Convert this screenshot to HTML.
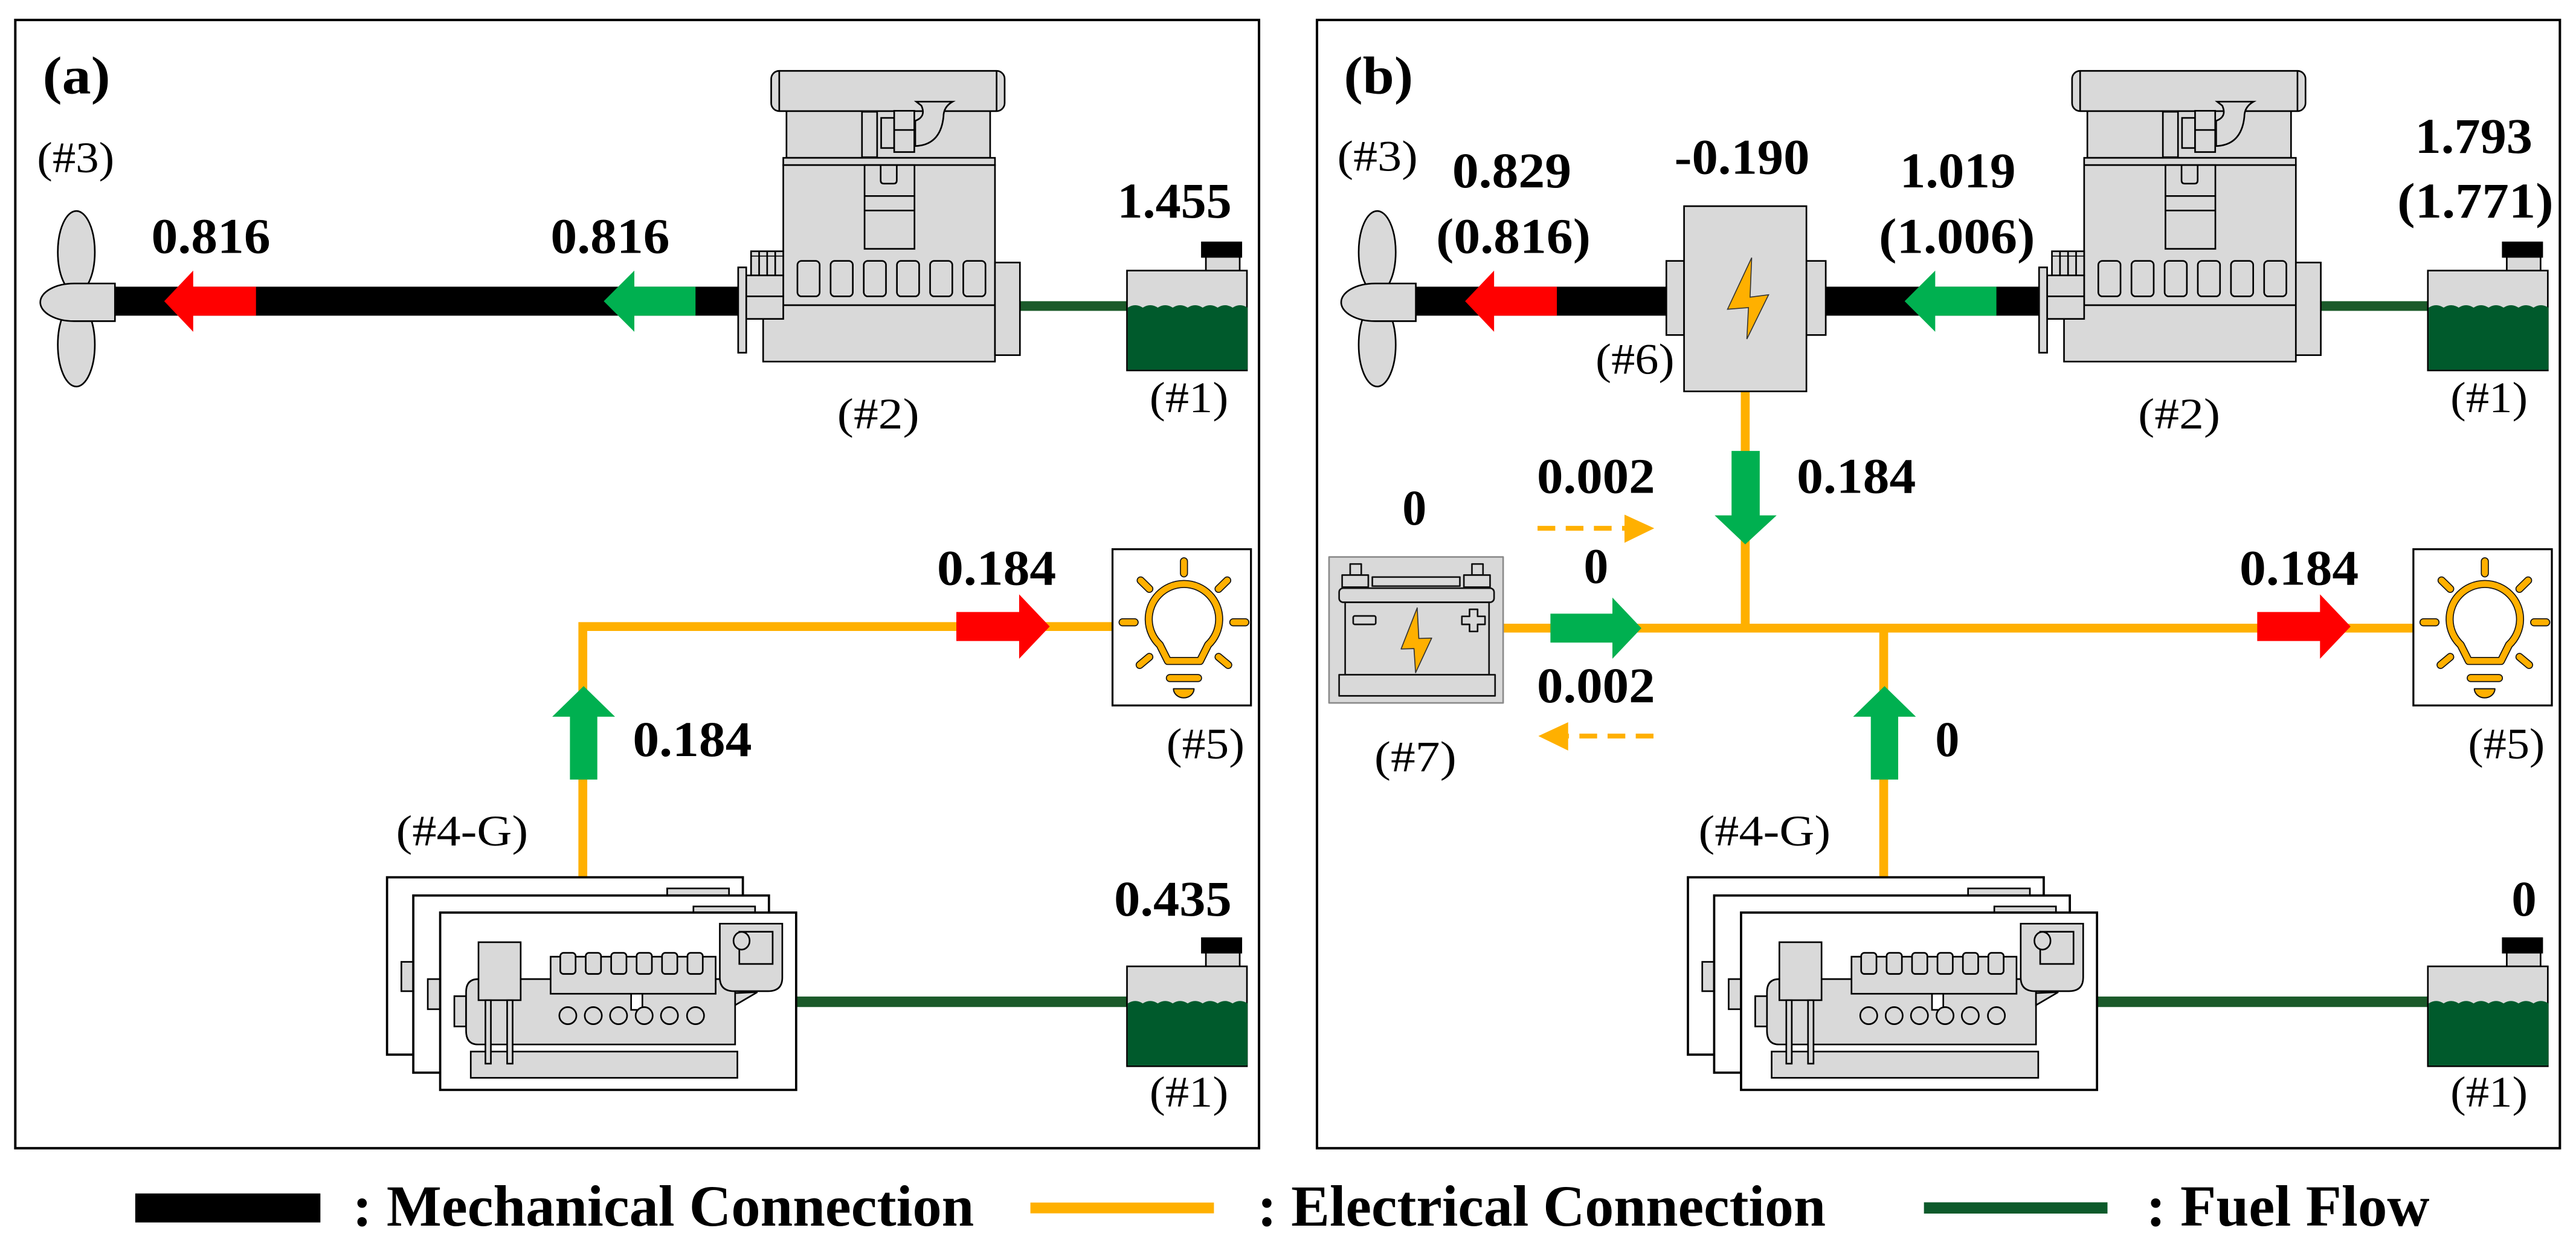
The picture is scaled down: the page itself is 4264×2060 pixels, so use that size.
<!DOCTYPE html>
<html><head><meta charset="utf-8"><style>
html,body{margin:0;padding:0;background:#fff;}
svg{display:block;}
text{font-family:"Liberation Serif",serif;}
.v{font-weight:bold;font-size:31px;}
.l{font-size:27px;}
.g{fill:#d9d9d9;stroke:#000;stroke-width:1;}
</style></head><body>
<svg width="4264" height="2060" viewBox="0 0 1600 773" preserveAspectRatio="none" xmlns="http://www.w3.org/2000/svg" xmlns:xlink="http://www.w3.org/1999/xlink">
<defs>
<g id="prop">
 <ellipse cx="47.4" cy="156.5" rx="11.5" ry="25.5" class="g"/>
 <ellipse cx="47.4" cy="214" rx="11.5" ry="26" class="g"/>
 <path d="M71.4,176 H46 A21,11.7 0 0 0 46,199.4 H71.4 Z" class="g"/>
</g>
<g id="eng">
 <rect x="479" y="44" width="145" height="25" rx="5" class="g"/>
 <line x1="484" y1="44" x2="484" y2="69" stroke="#000"/>
 <line x1="619" y1="44" x2="619" y2="69" stroke="#000"/>
 <rect x="488.5" y="69" width="126.5" height="29" class="g"/>
 <rect x="535.4" y="69.4" width="9.4" height="28.2" class="g"/>
 <rect x="547.3" y="73.2" width="8.1" height="18.7" class="g"/>
 <rect x="555.4" y="68.8" width="12.5" height="25.6" class="g"/>
 <line x1="555.4" y1="80.7" x2="567.9" y2="80.7" stroke="#000"/>
 <path d="M569.1,63.1 L591.7,63.1 Q586,66.3 586,72.5 Q584.2,90 568.5,90.7 L568.5,75 Q575.4,72.5 572.3,65.6 Z" class="g"/>
 <rect x="486.5" y="98" width="131.5" height="4.5" class="g"/>
 <rect x="486.5" y="102.5" width="131.5" height="87" class="g"/>
 <rect x="537" y="102.5" width="31" height="52" class="g"/>
 <line x1="537" y1="121.7" x2="568" y2="121.7" stroke="#000"/>
 <line x1="537" y1="130.7" x2="568" y2="130.7" stroke="#000"/>
 <path d="M547,102.5 V112 Q547,114 549,114 H555 Q557,114 557,112 V102.5" fill="none" stroke="#000"/>
 <rect x="495.3" y="162" width="13.8" height="22" rx="2.5" class="g"/>
 <rect x="515.9" y="162" width="13.8" height="22" rx="2.5" class="g"/>
 <rect x="536.5" y="162" width="13.8" height="22" rx="2.5" class="g"/>
 <rect x="557.1" y="162" width="13.8" height="22" rx="2.5" class="g"/>
 <rect x="577.7" y="162" width="13.8" height="22" rx="2.5" class="g"/>
 <rect x="598.3" y="162" width="13.8" height="22" rx="2.5" class="g"/>
 <rect x="474" y="189.5" width="144" height="35" class="g"/>
 <rect x="618" y="163" width="15.5" height="57.5" class="g"/>
 <rect x="466.5" y="156" width="20" height="15" class="g"/>
 <line x1="471.5" y1="156" x2="471.5" y2="171" stroke="#000"/>
 <line x1="476.5" y1="156" x2="476.5" y2="171" stroke="#000"/>
 <line x1="481.5" y1="156" x2="481.5" y2="171" stroke="#000"/>
 <line x1="466.5" y1="159" x2="486.5" y2="159" stroke="#000" stroke-width="0.6"/>
 <rect x="463.5" y="171" width="23" height="27" class="g"/>
 <line x1="463.5" y1="184" x2="486.5" y2="184" stroke="#000"/>
 <rect x="458.5" y="166" width="5" height="53" class="g"/>
</g>
<g id="tank">
 <rect x="749" y="159" width="21" height="10" class="g"/>
 <rect x="746" y="150" width="25.5" height="10" fill="#000"/>
 <rect x="700" y="168" width="74.5" height="62" class="g"/>
 <path d="M700.5,191 q4.6,-3 9.3,0 q4.6,-3 9.3,0 q4.6,-3 9.3,0 q4.6,-3 9.3,0 q4.6,-3 9.3,0 q4.6,-3 9.3,0 q4.6,-3 9.3,0 q4.6,-3 9.3,0 V229.5 H700.5 Z" fill="#005a2c"/>
</g>
<g id="gen">
 <rect x="240.4" y="544.7" width="221" height="110.1" fill="#fff" stroke="#000" stroke-width="1.4"/>
 <rect x="414.4" y="551.6" width="38.4" height="5" class="g"/>
 <rect x="249.3" y="597.2" width="7.4" height="18.2" class="g"/>
 <rect x="256.7" y="556" width="220.9" height="110" fill="#fff" stroke="#000" stroke-width="1.4"/>
 <rect x="430.7" y="562.8" width="38.3" height="4.2" class="g"/>
 <rect x="265.7" y="607.9" width="7.7" height="18.7" class="g"/>
 <rect x="273.4" y="566.6" width="221.1" height="110.1" fill="#fff" stroke="#000" stroke-width="1.4"/>
 <rect x="282.2" y="618.5" width="7.3" height="18.8" class="g"/>
 <path d="M297,607.9 H392 V627 H399 V607.9 H456.6 V648.5 H297 Q289.5,648.5 289.5,640 V616 Q289.5,607.9 297,607.9 Z" class="g"/>
 <rect x="342" y="594" width="102.5" height="23" class="g"/>
 <rect x="348" y="591.6" width="9.5" height="13.1" rx="2" class="g"/>
 <rect x="363.8" y="591.6" width="9.5" height="13.1" rx="2" class="g"/>
 <rect x="379.6" y="591.6" width="9.5" height="13.1" rx="2" class="g"/>
 <rect x="395.4" y="591.6" width="9.5" height="13.1" rx="2" class="g"/>
 <rect x="411.2" y="591.6" width="9.5" height="13.1" rx="2" class="g"/>
 <rect x="427" y="591.6" width="9.5" height="13.1" rx="2" class="g"/>
 <ellipse cx="352.7" cy="630.6" rx="5.3" ry="5.3" class="g"/>
 <ellipse cx="368.5" cy="630.6" rx="5.3" ry="5.3" class="g"/>
 <ellipse cx="384.2" cy="630.6" rx="5.3" ry="5.3" class="g"/>
 <ellipse cx="400.1" cy="630.6" rx="5.3" ry="5.3" class="g"/>
 <ellipse cx="415.8" cy="630.6" rx="5.3" ry="5.3" class="g"/>
 <ellipse cx="432" cy="630.6" rx="5.3" ry="5.3" class="g"/>
 <rect x="292.4" y="652.9" width="165.6" height="16.3" class="g"/>
 <rect x="297.2" y="585" width="26.2" height="36" class="g"/>
 <rect x="301.5" y="621" width="3.4" height="39.4" class="g"/>
 <rect x="315" y="621" width="3.4" height="39.4" class="g"/>
 <path d="M456.6,616.6 L470.4,616 L456.6,624.1 Z" class="g"/>
 <path d="M447.1,573.5 H485.9 V607 Q485.9,615.4 477,615.4 H456 Q447.1,615.4 447.1,607 Z" class="g"/>
 <rect x="459.2" y="578.5" width="20.7" height="20" class="g"/>
 <ellipse cx="460.6" cy="584.1" rx="5" ry="5.5" class="g"/>
</g>
<g id="bulb">
 <rect x="0" y="0" width="86" height="97" fill="#fff" stroke="#000" stroke-width="1.2"/>
 <g transform="scale(0.125) translate(-15,-15)" fill="none" stroke-linecap="round" stroke-linejoin="round">
  <g stroke="#111" stroke-width="40">
   <path d="M250,490 A175,175 0 1 1 490,490 L450,570 L290,570 Z"/>
   <path d="M370,75 V135 M155,170 L198,212 M585,170 L542,212 M65,378 H125 M615,378 H675 M150,590 L198,550 M590,590 L542,550 M300,655 H440"/>
  </g>
  <g stroke="#ffb000" stroke-width="30">
   <path d="M250,490 A175,175 0 1 1 490,490 L450,570 L290,570 Z"/>
   <path d="M370,75 V135 M155,170 L198,212 M585,170 L542,212 M65,378 H125 M615,378 H675 M150,590 L198,550 M590,590 L542,550 M300,655 H440"/>
  </g>
  <path d="M318,708 H420 A51,45 0 0 1 318,708 Z" fill="#ffb000" stroke="#111" stroke-width="6"/>
 </g>
</g>
</defs>

<!-- panel borders -->
<rect x="9.5" y="12.4" width="772.5" height="700.5" fill="none" stroke="#000" stroke-width="1.5"/>
<rect x="818" y="12.4" width="772" height="700.5" fill="none" stroke="#000" stroke-width="1.5"/>

<!-- ===== PANEL A ===== -->
<text x="26.5" y="58" font-weight="bold" font-size="33" textLength="42" lengthAdjust="spacingAndGlyphs">(a)</text>
<text x="23" y="107" class="l" textLength="48" lengthAdjust="spacingAndGlyphs">(#3)</text>
<rect x="71" y="178" width="390" height="18" fill="#000"/>
<line x1="633" y1="190" x2="700" y2="190" stroke="#1b5a2a" stroke-width="6"/>
<line x1="494" y1="622" x2="700" y2="622" stroke="#1b5a2a" stroke-width="6.5"/>
<use xlink:href="#prop"/>
<use xlink:href="#eng"/>
<use xlink:href="#tank"/>
<use xlink:href="#tank" transform="translate(0,432)"/>
<polygon points="159,178 120,178 120,168 102,187 120,206 120,196 159,196" fill="#ff0000"/>
<polygon points="432,178 394,178 394,168 375,187 394,206 394,196 432,196" fill="#00b050"/>
<text x="94" y="157" class="v" textLength="74" lengthAdjust="spacingAndGlyphs">0.816</text>
<text x="342" y="157" class="v" textLength="74" lengthAdjust="spacingAndGlyphs">0.816</text>
<text x="694" y="135" class="v" textLength="71" lengthAdjust="spacingAndGlyphs">1.455</text>
<text x="520" y="266" class="l" textLength="51" lengthAdjust="spacingAndGlyphs">(#2)</text>
<text x="714" y="256" class="l" textLength="49" lengthAdjust="spacingAndGlyphs">(#1)</text>
<path d="M362,545 V389 H691" fill="none" stroke="#ffb000" stroke-width="5.5"/>
<polygon points="594,380 633,380 633,369 652,389 633,409 633,398 594,398" fill="#ff0000"/>
<polygon points="354,484 354,445 343,445 362.5,426 382,445 371,445 371,484" fill="#00b050"/>
<text x="582" y="363" class="v" textLength="74" lengthAdjust="spacingAndGlyphs">0.184</text>
<text x="393" y="469.5" class="v" textLength="74" lengthAdjust="spacingAndGlyphs">0.184</text>
<use xlink:href="#bulb" transform="translate(691,341)"/>
<text x="724.5" y="471" class="l" textLength="48.5" lengthAdjust="spacingAndGlyphs">(#5)</text>
<text x="246" y="525" class="l" textLength="82" lengthAdjust="spacingAndGlyphs">(#4-G)</text>
<use xlink:href="#gen"/>
<text x="692" y="568.5" class="v" textLength="73" lengthAdjust="spacingAndGlyphs">0.435</text>
<text x="714" y="687" class="l" textLength="49" lengthAdjust="spacingAndGlyphs">(#1)</text>

<!-- ===== PANEL B ===== -->
<text x="834.7" y="58" font-weight="bold" font-size="33" textLength="43" lengthAdjust="spacingAndGlyphs">(b)</text>
<text x="830.6" y="106" class="l" textLength="50" lengthAdjust="spacingAndGlyphs">(#3)</text>
<rect x="879" y="178" width="390" height="18" fill="#000"/>
<line x1="1441" y1="190" x2="1508" y2="190" stroke="#1b5a2a" stroke-width="6"/>
<line x1="1302" y1="622" x2="1508" y2="622" stroke="#1b5a2a" stroke-width="6.5"/>
<use xlink:href="#prop" transform="translate(808,0)"/>
<use xlink:href="#eng" transform="translate(808,0)"/>
<use xlink:href="#tank" transform="translate(808,0)"/>
<use xlink:href="#tank" transform="translate(808,432)"/>
<!-- generator #6 -->
<path d="M1084,243 V390" stroke="#ffb000" stroke-width="5.5"/>
<rect x="1035" y="162" width="11" height="46" class="g"/>
<rect x="1122" y="162" width="12" height="46" class="g"/>
<rect x="1046" y="128" width="76" height="115" class="g"/>
<path d="M1088,160 L1073,192 L1086,191 L1085,210.5 L1098.5,183 L1087,184.5 Z" fill="#ffb000" stroke="#333" stroke-width="0.6"/>
<polygon points="967,178 928,178 928,168 910,187 928,206 928,196 967,196" fill="#ff0000"/>
<polygon points="1240,178 1202,178 1202,168 1183,187 1202,206 1202,196 1240,196" fill="#00b050"/>
<text x="902" y="116.4" class="v" textLength="74" lengthAdjust="spacingAndGlyphs">0.829</text>
<text x="892" y="157" class="v" textLength="96" lengthAdjust="spacingAndGlyphs">(0.816)</text>
<text x="1040" y="107.8" class="v" textLength="84" lengthAdjust="spacingAndGlyphs">-0.190</text>
<text x="1180" y="116.4" class="v" textLength="72" lengthAdjust="spacingAndGlyphs">1.019</text>
<text x="1167" y="157" class="v" textLength="97" lengthAdjust="spacingAndGlyphs">(1.006)</text>
<text x="1500" y="95" class="v" textLength="73" lengthAdjust="spacingAndGlyphs">1.793</text>
<text x="1489" y="135" class="v" textLength="97" lengthAdjust="spacingAndGlyphs">(1.771)</text>
<text x="991" y="232" class="l" textLength="49" lengthAdjust="spacingAndGlyphs">(#6)</text>
<text x="1328" y="266" class="l" textLength="51" lengthAdjust="spacingAndGlyphs">(#2)</text>
<text x="1522" y="256" class="l" textLength="48" lengthAdjust="spacingAndGlyphs">(#1)</text>
<!-- electrical bus -->
<path d="M934,390 H1499 M1170,545 V390" fill="none" stroke="#ffb000" stroke-width="5.5"/>
<polygon points="1075.5,280 1093,280 1093,320 1103.5,320 1084,338 1065,320 1075.5,320" fill="#00b050"/>
<polygon points="963,381 1001.5,381 1001.5,371 1019.5,390 1001.5,409 1001.5,399 963,399" fill="#00b050"/>
<polygon points="1402,380 1441,380 1441,369 1460,389 1441,409 1441,398 1402,398" fill="#ff0000"/>
<polygon points="1162,484 1162,445 1151,445 1170.5,426 1190,445 1179,445 1179,484" fill="#00b050"/>
<!-- dashed arrows -->
<line x1="955" y1="328" x2="1009" y2="328" stroke="#ffb000" stroke-width="3" stroke-dasharray="11,6.5"/>
<polygon points="1009,319.5 1027.5,328 1009,337" fill="#ffb000"/>
<line x1="1027" y1="457" x2="974" y2="457" stroke="#ffb000" stroke-width="3" stroke-dasharray="11,6.5"/>
<polygon points="974,448.4 955.5,457 974,466" fill="#ffb000"/>
<text x="954.6" y="306" class="v" textLength="73.4" lengthAdjust="spacingAndGlyphs">0.002</text>
<text x="1116" y="306" class="v" textLength="74" lengthAdjust="spacingAndGlyphs">0.184</text>
<text x="871" y="325.7" class="v" textLength="15" lengthAdjust="spacingAndGlyphs">0</text>
<text x="983.7" y="362" class="v" textLength="15.3" lengthAdjust="spacingAndGlyphs">0</text>
<text x="1391" y="363" class="v" textLength="74" lengthAdjust="spacingAndGlyphs">0.184</text>
<text x="954.6" y="436" class="v" textLength="73.4" lengthAdjust="spacingAndGlyphs">0.002</text>
<text x="853.6" y="479" class="l" textLength="51" lengthAdjust="spacingAndGlyphs">(#7)</text>
<text x="1202" y="469.5" class="v" textLength="15" lengthAdjust="spacingAndGlyphs">0</text>
<text x="1533" y="471" class="l" textLength="47.6" lengthAdjust="spacingAndGlyphs">(#5)</text>
<text x="1055" y="525" class="l" textLength="82" lengthAdjust="spacingAndGlyphs">(#4-G)</text>
<text x="1560" y="568.5" class="v" textLength="15.5" lengthAdjust="spacingAndGlyphs">0</text>
<text x="1522" y="687" class="l" textLength="48" lengthAdjust="spacingAndGlyphs">(#1)</text>
<use xlink:href="#bulb" transform="translate(1499,341)"/>
<use xlink:href="#gen" transform="translate(808,0)"/>
<!-- battery #7 -->
<g transform="translate(825.5,345.8) scale(0.125) translate(-30,-65)" stroke-linejoin="round">
 <rect x="30" y="65" width="865" height="725" fill="#d9d9d9" stroke="#8a8a8a" stroke-width="8"/>
 <g fill="#d9d9d9" stroke="#111" stroke-width="8">
  <rect x="135" y="100" width="55" height="55"/>
  <rect x="740" y="100" width="55" height="55"/>
  <rect x="95" y="155" width="130" height="60"/>
  <rect x="700" y="155" width="130" height="60"/>
  <rect x="245" y="165" width="435" height="45"/>
  <rect x="110" y="290" width="715" height="360"/>
  <rect x="80" y="220" width="770" height="70" rx="20"/>
  <rect x="150" y="358" width="112" height="42" rx="8"/>
  <path d="M728,325 H768 V360 H805 V400 H768 V435 H728 V400 H690 V360 H728 Z"/>
  <rect x="80" y="650" width="775" height="105"/>
 </g>
 <path d="M468,318 L388,522 L452,520 L460,640 L540,468 L476,470 Z" fill="#ffb000" stroke="#333" stroke-width="5"/>
</g>

<!-- legend -->
<rect x="84" y="741" width="115" height="18" fill="#000"/>
<text x="219" y="761" font-weight="bold" font-size="36" textLength="386" lengthAdjust="spacingAndGlyphs">: Mechanical Connection</text>
<line x1="640" y1="750" x2="754" y2="750" stroke="#ffb000" stroke-width="6.7"/>
<text x="781" y="761" font-weight="bold" font-size="36" textLength="353" lengthAdjust="spacingAndGlyphs">: Electrical Connection</text>
<line x1="1195" y1="750" x2="1309" y2="750" stroke="#0d5a2b" stroke-width="7"/>
<text x="1333" y="761" font-weight="bold" font-size="36" textLength="176" lengthAdjust="spacingAndGlyphs">: Fuel Flow</text>
</svg>
</body></html>
